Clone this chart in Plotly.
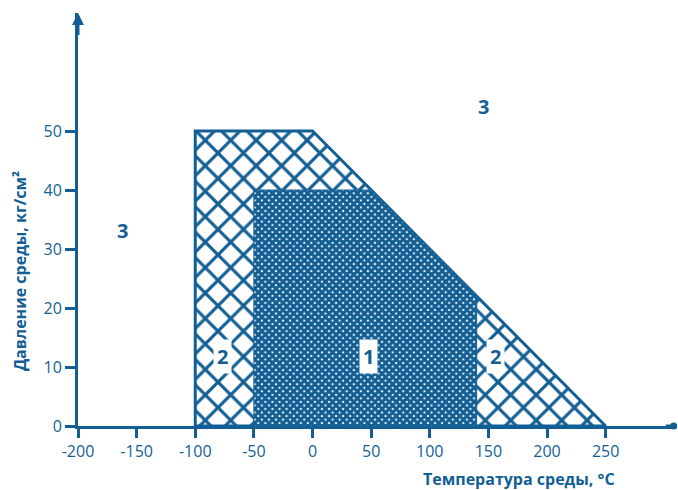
import plotly.graph_objects as go

BLUE = "#135f94"

# Zone 2+1 outer boundary (temperature, pressure)
outer_t = [-100, -100, 0, 250, -100]
outer_p = [0, 50, 50, 0, 0]
# Zone 1 boundary
inner_t = [-50, -50, 50, 140, 140, -50]
inner_p = [0, 40, 40, 22, 0, 0]

x_ticks = [-200, -150, -100, -50, 0, 50, 100, 150, 200, 250]
y_ticks = [0, 10, 20, 30, 40, 50]

zone_labels = ["3", "3", "2", "1", "2"]
zone_t = [146, -162, -77, 48, 156]
zone_p = [54.2, 33.2, 11.7, 11.7, 11.7]
zone_box = [False, False, True, True, True]

fig = go.Figure()
fig.add_trace(go.Scatter(
    x=outer_t, y=outer_p, mode="lines", fill="toself",
    line=dict(color=BLUE, width=3),
    fillcolor="white",
    fillpattern=dict(shape="x", size=18, solidity=0.32, fgcolor=BLUE, bgcolor="white", fillmode="replace"),
    hoverinfo="skip", showlegend=False,
))
fig.add_trace(go.Scatter(
    x=inner_t, y=inner_p, mode="lines", fill="toself",
    line=dict(color=BLUE, width=1),
    fillcolor="white",
    fillpattern=dict(shape="x", size=5, solidity=0.85, fgcolor=BLUE, bgcolor="white", fillmode="replace"),
    hoverinfo="skip", showlegend=False,
))

for lab, t, p, box in zip(zone_labels, zone_t, zone_p, zone_box):
    fig.add_annotation(
        x=t, y=p, text="<b>%s</b>" % lab, showarrow=False,
        font=dict(family="Open Sans", size=20, color=BLUE),
        bgcolor="white" if box else None, borderpad=3,
    )

# axis arrows
fig.add_annotation(x=-200, y=70, ax=-200, ay=66, xref="x", yref="y", axref="x", ayref="y",
                   showarrow=True, arrowhead=2, arrowsize=0.8, arrowwidth=3, arrowcolor=BLUE, text="")
fig.add_annotation(x=308, y=0, ax=300, ay=0, xref="x", yref="y", axref="x", ayref="y",
                   showarrow=True, arrowhead=6, arrowsize=0.6, arrowwidth=3, arrowcolor=BLUE, text="")

fig.update_layout(
    width=678, height=490,
    margin=dict(l=78, r=2, t=13, b=64),
    paper_bgcolor="white", plot_bgcolor="white",
    font=dict(family="Open Sans", size=16, color=BLUE),
    xaxis=dict(
        range=[-200, 310], tickvals=x_ticks, ticktext=[str(v) for v in x_ticks],
        showgrid=False, zeroline=False, showline=True, linecolor=BLUE, linewidth=3,
        ticks="outside", ticklen=9, tickwidth=3, tickcolor=BLUE,
        tickfont=dict(family="Open Sans", size=16, color=BLUE),
    ),
    yaxis=dict(
        range=[0, 70], tickvals=y_ticks,
        showgrid=False, zeroline=False, showline=True, linecolor=BLUE, linewidth=3,
        ticks="outside", ticklen=10, tickwidth=3, tickcolor=BLUE,
        tickfont=dict(family="Open Sans", size=16, color=BLUE),
    ),
)

fig.add_annotation(text="<b>Температура среды, °C</b>", xref="paper", yref="paper",
                   x=0.738, y=-0.098, xanchor="center", yanchor="top", showarrow=False,
                   font=dict(family="Open Sans", size=16, color=BLUE))
fig.add_annotation(text="<b>Давление среды, кг/см²</b>", xref="paper", yref="paper",
                   x=-0.097, y=0.375, xanchor="center", yanchor="middle", textangle=-90, showarrow=False,
                   font=dict(family="Open Sans", size=16, color=BLUE))

fig.write_html("out.html", config={"displayModeBar": False},
               post_script="document.body.style.margin='0';")
